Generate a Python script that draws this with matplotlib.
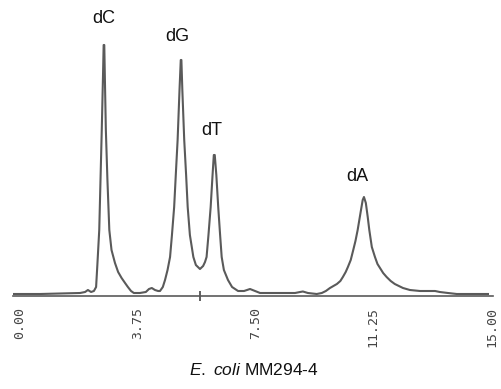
import matplotlib.pyplot as plt

plt.rcParams["mathtext.fontset"] = "custom"
plt.rcParams["mathtext.it"] = "Liberation Sans:italic"
plt.rcParams["mathtext.rm"] = "Liberation Sans"

# retention time (min) and detector signal
time = [-0.20, 0.66, 1.29, 1.93, 2.09, 2.18, 2.28, 2.37, 2.44, 2.48, 2.54, 2.58,
        2.62, 2.66, 2.68, 2.70, 2.72, 2.75, 2.80, 2.86, 2.93, 3.04, 3.14, 3.25, 3.36,
        3.45, 3.55, 3.64, 3.83, 4.02, 4.12, 4.21, 4.31, 4.41, 4.47, 4.56, 4.63,
        4.71, 4.79, 4.85, 4.92, 4.98, 5.03, 5.09, 5.13, 5.15, 5.18, 5.24, 5.30, 5.35,
        5.42, 5.53, 5.61, 5.74, 5.84, 5.90, 5.95, 6.01, 6.08, 6.14, 6.18, 6.21, 6.26,
        6.32, 6.38, 6.43, 6.50, 6.63, 6.76, 6.95, 7.14, 7.33, 7.49, 7.65, 8.28,
        8.76, 8.92, 9.01, 9.17, 9.45, 9.61, 9.74, 9.87, 10.09, 10.20, 10.28, 10.37,
        10.44, 10.53, 10.61, 10.68, 10.75, 10.84, 10.91, 10.95, 11.01, 11.07, 11.12,
        11.20, 11.30, 11.38, 11.46, 11.56, 11.67, 11.80,
        11.93, 12.19, 12.41, 12.73, 13.21, 13.36, 13.62, 13.90, 14.89]
signal = [1, 1, 1.5, 2, 3, 5, 3, 4, 8, 30, 65, 115,
          165, 220, 250, 250, 215, 165, 115, 65, 45, 32, 23, 17, 12,
          8, 4, 2, 2, 3, 6, 7, 5, 4, 4, 8, 15,
          25, 38, 60, 88, 125, 155, 205, 235, 235, 205, 155, 120, 88,
          60, 38, 30, 26, 29, 33, 38, 60, 88, 120, 140, 140, 120,
          88, 60, 38, 25, 15, 8, 4, 4, 6, 4, 2, 2,
          2, 3, 3.5, 2, 1, 2, 4, 7, 11, 14, 18, 23,
          28, 35, 45, 54, 65, 82, 95, 98, 92, 78, 65,
          48, 38, 31, 27, 22, 18, 14,
          11, 7, 5, 4, 4, 3, 2, 1, 1]

peaks = ["dC", "dG", "dT", "dA"]
peak_t = [2.69, 5.01, 6.12, 10.73]
peak_y = [272, 254, 160, 114]

ticks = [0.0, 3.75, 7.5, 11.25, 15.0]
tick_labels = ["0.00", "3.75", "7.50", "11.25", "15.00"]

fig = plt.figure(figsize=(5.02, 3.89), dpi=100)
ax = fig.add_axes([13 / 502, 93 / 389, 480 / 502, 296 / 389])
ax.plot(time, signal, color="#5a5a5a", lw=1.5)

for name, t, y in zip(peaks, peak_t, peak_y):
    ax.text(t, y, name, ha="center", va="baseline", fontsize=13,
            family="Liberation Sans", color="#111111")

ax.set_xlim(-0.2, 15.05)
ax.set_ylim(-1, 295)
for s in ["top", "left", "right"]:
    ax.spines[s].set_visible(False)
ax.spines["bottom"].set_color("#5a5a5a")
ax.spines["bottom"].set_linewidth(1.2)
ax.set_yticks([])
ax.set_xticks(ticks)
ax.set_xticklabels(tick_labels, rotation=90, family="DejaVu Sans Mono",
                   fontsize=9.5, color="#444444")
ax.set_xticks([5.75], minor=True)
ax.tick_params(axis="x", which="major", length=0, pad=8)
ax.tick_params(axis="x", which="minor", length=7, direction="inout",
               color="#444444", width=1.2)

fig.text(0.505, 0.035, r"$\it{E.}$ $\it{coli}$ MM294-4", ha="center",
         fontsize=12.5, family="Liberation Sans", color="#111111")

fig.savefig("out.png", dpi=100)
